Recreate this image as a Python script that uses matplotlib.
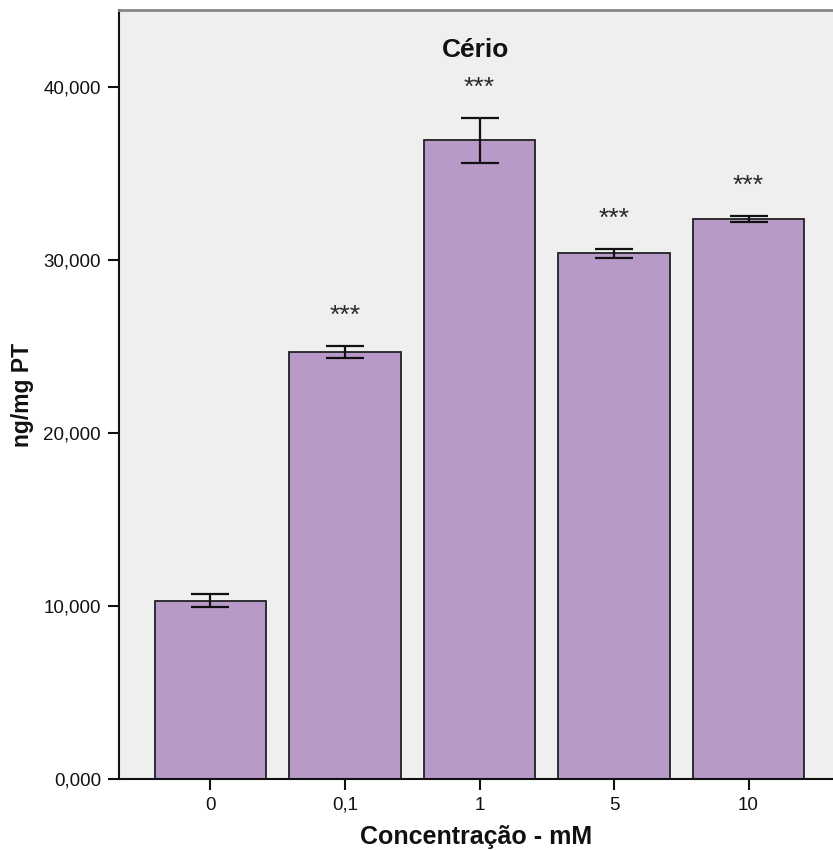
import matplotlib
matplotlib.use("Agg")
import matplotlib.pyplot as plt
from matplotlib.ticker import FuncFormatter

plt.rcParams['font.family'] = ['Liberation Sans', 'DejaVu Sans']

# Data: cerium content per concentration
categories = ["0", "0,1", "1", "5", "10"]
means = [10.30, 24.68, 36.90, 30.37, 32.35]      # thousands of ng/mg PT
errors = [0.40, 0.35, 1.30, 0.26, 0.18]
significance = ["", "***", "***", "***", "***"]
yticks = [0, 10, 20, 30, 40]

fig = plt.figure(figsize=(8.33, 8.5), dpi=100)
W, H = 833, 850
left, right, top, bottom = 119, 840, 9.5, 778.7
ax = fig.add_axes([left / W, 1 - bottom / H, (right - left) / W, (bottom - top) / H])
ax.set_facecolor("#EFEFEF")

x = list(range(len(categories)))
ax.bar(x, means, width=0.83, color="#B89AC8", edgecolor="#222222", linewidth=1.3, zorder=2)
ax.errorbar(x, means, yerr=errors, fmt="none", ecolor="#111111", elinewidth=1.6,
            capsize=14, capthick=1.6, zorder=3)

# significance marks above the error bars
for xi, m, e, s in zip(x, means, errors, significance):
    if s:
        ax.annotate(s, xy=(xi, m + e + 2.0), xytext=(0, -12), textcoords="offset pixels",
                    ha="center", va="baseline", fontsize=19, color="#2a2a2a")

ax.set_xlim(-0.68, 4.68)
ax.set_ylim(0, 44.46)
ax.set_xticks(x)
ax.set_xticklabels(categories)
ax.set_yticks(yticks)
ax.yaxis.set_major_formatter(FuncFormatter(lambda v, p: f"{int(v)},000"))

ax.tick_params(axis="both", direction="out", length=8, width=1.5, labelsize=13.5,
               colors="#111111", pad=5)

for side in ["left", "bottom"]:
    ax.spines[side].set_color("#111111")
    ax.spines[side].set_linewidth(1.5)
ax.spines["top"].set_color("#888888")
ax.spines["top"].set_linewidth(2)
ax.spines["right"].set_visible(False)

fig.text(476 / W, 1 - 56.7 / H, "Cério", ha="center", va="baseline",
         fontsize=19, fontweight="bold", color="#111111")

fig.text(23 / W, 1 - 395 / H, "ng/mg PT", rotation=90, ha="center", va="center",
         fontsize=16.5, fontweight="bold", color="#111111")
fig.text(476 / W, 1 - 844 / H, "Concentração - mM", ha="center", va="baseline",
         fontsize=18, fontweight="bold", color="#111111")

fig.savefig("out.png", dpi=100)
